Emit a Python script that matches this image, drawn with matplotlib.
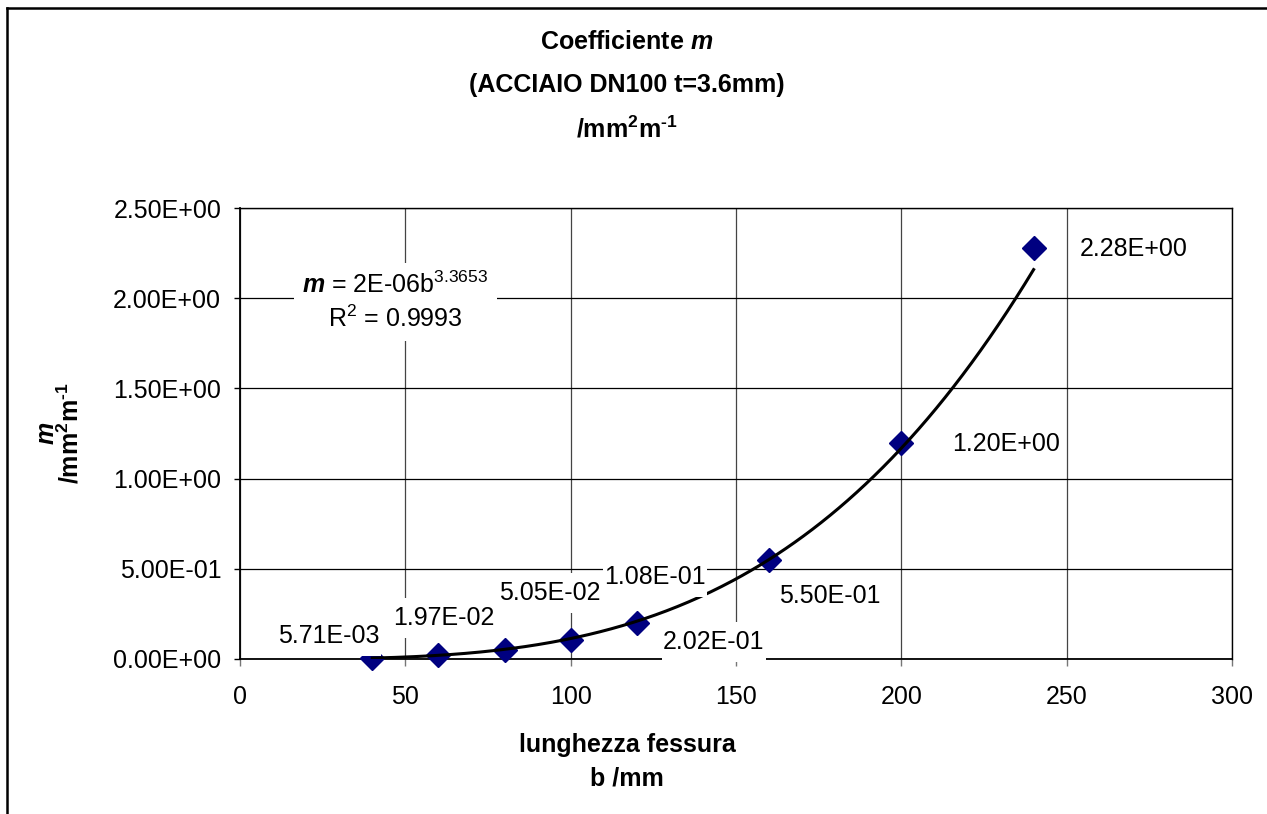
import numpy as np
import matplotlib
matplotlib.use("Agg")
import matplotlib.pyplot as plt
from matplotlib.lines import Line2D
from matplotlib.path import Path
from matplotlib.ticker import FuncFormatter

plt.rcParams["font.family"] = ["Liberation Sans", "DejaVu Sans"]
plt.rcParams["mathtext.fontset"] = "custom"
plt.rcParams["mathtext.default"] = "regular"
plt.rcParams["mathtext.rm"] = "Liberation Sans"
plt.rcParams["mathtext.it"] = "Liberation Sans:italic"
plt.rcParams["mathtext.bf"] = "Liberation Sans:italic:bold"

# crack length b [mm] and coefficient m [mm^2 m^-1]
crack_length = [40, 60, 80, 100, 120, 160, 200, 240]
m_values = [5.71e-03, 1.97e-02, 5.05e-02, 1.08e-01, 2.02e-01, 5.50e-01, 1.20e+00, 2.28e+00]

x_ticks = [0, 50, 100, 150, 200, 250, 300]
y_ticks = [0.0, 0.5, 1.0, 1.5, 2.0, 2.5]

unit = "/mm$^{2}$m$^{\u20101}$"
title_lines = ["Coefficiente $\\mathbf{m}$", "(ACCIAIO DN100 t=3.6mm)", unit]
x_title = ["lunghezza fessura", "b /mm"]
y_title = ["$\\mathbf{m}$", unit]
trend_text = "$\\mathbf{m}$ = 2E-06b$^{3.3653}$\nR$^{2}$ = 0.9993"

W, H = 1267, 814
fig = plt.figure(figsize=(W / 100, H / 100), dpi=100)
fig.patch.set_facecolor("white")


def fx(px):
    return px / W


def fy(py):
    return 1 - py / H


def label_box(x0, y0, width, height, mutation_size):
    """White label box: tight at the sides, taller above and below."""
    px = 0.05 * mutation_size
    py = 0.32 * mutation_size
    x0, y0 = x0 - px, y0 - py
    x1, y1 = x0 + width + 2 * px, y0 + height + 2 * py
    return Path([(x0, y0), (x1, y0), (x1, y1), (x0, y1), (x0, y0)], closed=True)


ax = fig.add_axes([fx(240), fy(659), fx(1232) - fx(240), fy(208) - fy(659)])
ax.set_xlim(x_ticks[0], x_ticks[-1])
ax.set_ylim(y_ticks[0], y_ticks[-1])
ax.set_xticks(x_ticks)
ax.set_yticks(y_ticks)
ax.yaxis.set_major_formatter(FuncFormatter(lambda v, p: f"{v:.2E}"))

ax.grid(True, axis="y", color="black", lw=0.9, zorder=0)
ax.grid(True, axis="x", color="#444444", lw=0.9, zorder=0)
ax.set_axisbelow(True)
for s in ax.spines.values():
    s.set_color("black")
    s.set_linewidth(1.0)
ax.spines["left"].set_linewidth(1.3)
ax.spines["bottom"].set_linewidth(1.3)

ax.tick_params(axis="y", direction="out", length=4.5, width=1, color="black",
               labelsize=18, pad=9)
ax.tick_params(axis="x", direction="out", length=5, width=1, color="#777777",
               labelsize=18, pad=14)

# measured points
ax.plot(crack_length, m_values, linestyle="none", marker="D", markersize=12,
        color="#000080", zorder=3, clip_on=False)

# power-law trendline fitted in log-log space
b_arr = np.array(crack_length, dtype=float)
m_arr = np.array(m_values, dtype=float)
k, lna = np.polyfit(np.log(b_arr), np.log(m_arr), 1)
b_fit = np.linspace(b_arr.min(), b_arr.max(), 300)
ax.plot(b_fit, np.exp(lna) * b_fit ** k, color="black", lw=2.2, zorder=4)

# value labels, offset from each point in pixels; earlier labels sit on top
label_offsets = [(-43, 22), (5, 37), (45, 57), (84, 63), (77, -19), (61, -36), (105, -1), (100, -1)]
for i, (b, m, (dx, dy)) in enumerate(zip(crack_length, m_values, label_offsets)):
    ax.annotate(f"{m:.2E}", xy=(b, m), xytext=(dx, dy), textcoords="offset pixels",
                ha="center", va="center", fontsize=18, zorder=20 - i, annotation_clip=False,
                bbox=dict(boxstyle=label_box, fc="white", ec="none"))

# trendline equation box
ax.text(47, 1.98, trend_text, ha="center", va="center", fontsize=18, linespacing=1.35,
        zorder=6, bbox=dict(boxstyle="square,pad=0.35", fc="white", ec="none"))

# titles
for txt, base in zip(title_lines, [49, 92, 137]):
    fig.text(fx(627), fy(base), txt, ha="center", va="baseline", fontsize=18, fontweight="bold")
for txt, base in zip(x_title, [752, 785]):
    fig.text(fx(627), fy(base), txt, ha="center", va="baseline", fontsize=18, fontweight="bold")
for txt, xc in zip(y_title, [47, 70]):
    fig.text(fx(xc), fy(433), txt, ha="center", va="center", rotation=90,
             fontsize=18, fontweight="bold")

# outer frame
fig.add_artist(Line2D([fx(6.5), 1], [fy(7.5), fy(7.5)], transform=fig.transFigure,
                      color="black", lw=1.8))
fig.add_artist(Line2D([fx(6.5), fx(6.5)], [0, fy(7.5)], transform=fig.transFigure,
                      color="black", lw=1.8))

fig.savefig("out.png", dpi=100, facecolor="white")
